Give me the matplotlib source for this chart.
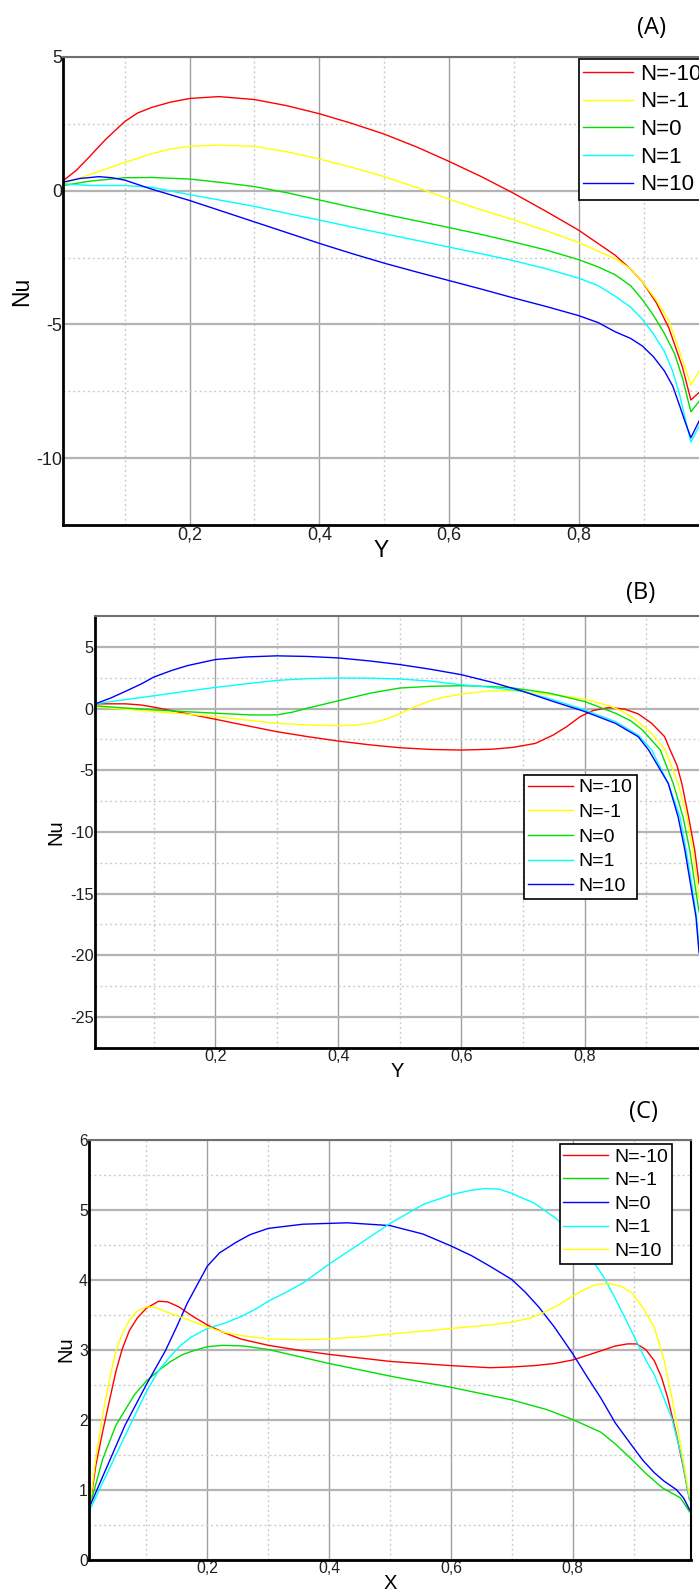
import matplotlib
matplotlib.use('Agg')
import matplotlib.pyplot as plt
from matplotlib.ticker import FixedLocator, FixedFormatter

plt.rcParams['font.family'] = ['Liberation Sans', 'DejaVu Sans']

labels = ['N=-10', 'N=-1', 'N=0', 'N=1', 'N=10']
x_ticks = [0.2, 0.4, 0.6, 0.8]
x_tick_labels = ['0,2', '0,4', '0,6', '0,8']
x_minor = [0.1, 0.3, 0.5, 0.7, 0.9]

# ---- panel A : Nu along Y ----
a_red_x = [0.006, 0.025, 0.045, 0.07, 0.10, 0.12, 0.142, 0.17, 0.2, 0.245, 0.30, 0.35, 0.4, 0.45, 0.5, 0.55,
           0.6, 0.65, 0.698, 0.75, 0.8, 0.856, 0.88, 0.898, 0.92, 0.939, 0.96, 0.973, 0.986]
a_red_y = [0.39, 0.75, 1.25, 1.9, 2.58, 2.90, 3.11, 3.30, 3.44, 3.51, 3.40, 3.17, 2.87, 2.51, 2.11, 1.63,
           1.09, 0.52, -0.08, -0.78, -1.48, -2.41, -2.93, -3.40, -4.2, -5.13, -6.6, -7.82, -7.53]
a_yel_x = [0.006, 0.045, 0.10, 0.142, 0.17, 0.2, 0.245, 0.30, 0.35, 0.4, 0.45, 0.5, 0.55, 0.6, 0.65, 0.698,
           0.75, 0.8, 0.856, 0.88, 0.898, 0.92, 0.939, 0.96, 0.973, 0.986]
a_yel_y = [0.25, 0.59, 1.05, 1.38, 1.55, 1.65, 1.70, 1.65, 1.45, 1.18, 0.87, 0.52, 0.12, -0.32, -0.72, -1.08,
           -1.50, -1.94, -2.54, -2.92, -3.40, -4.1, -4.87, -6.33, -7.26, -6.73]
a_grn_x = [0.006, 0.045, 0.10, 0.142, 0.2, 0.25, 0.30, 0.35, 0.4, 0.45, 0.5, 0.55, 0.6, 0.65, 0.698, 0.75,
           0.8, 0.83, 0.856, 0.88, 0.898, 0.915, 0.932, 0.948, 0.96, 0.973, 0.986]
a_grn_y = [0.19, 0.35, 0.48, 0.49, 0.43, 0.30, 0.15, -0.08, -0.35, -0.62, -0.88, -1.13, -1.38, -1.64, -1.91, -2.22,
           -2.58, -2.85, -3.14, -3.55, -4.07, -4.65, -5.33, -6.1, -7.0, -8.26, -7.86]
a_cyn_x = [0.006, 0.045, 0.10, 0.142, 0.2, 0.25, 0.30, 0.35, 0.4, 0.45, 0.5, 0.55, 0.6, 0.65, 0.698, 0.75,
           0.8, 0.83, 0.856, 0.88, 0.898, 0.915, 0.932, 0.945, 0.956, 0.965, 0.973, 0.986]
a_cyn_y = [0.25, 0.19, 0.19, 0.12, -0.15, -0.37, -0.59, -0.85, -1.10, -1.36, -1.61, -1.86, -2.11, -2.36, -2.61, -2.92,
           -3.27, -3.55, -3.94, -4.35, -4.80, -5.35, -6.0, -6.75, -7.66, -8.6, -9.39, -8.79]
a_blu_x = [0.006, 0.03, 0.06, 0.08, 0.10, 0.142, 0.2, 0.25, 0.30, 0.35, 0.4, 0.45, 0.5, 0.55, 0.6, 0.65, 0.698,
           0.75, 0.8, 0.83, 0.856, 0.88, 0.898, 0.915, 0.932, 0.945, 0.956, 0.965, 0.973, 0.986]
a_blu_y = [0.32, 0.45, 0.52, 0.48, 0.39, 0.05, -0.37, -0.77, -1.17, -1.57, -1.97, -2.35, -2.71, -3.04, -3.36, -3.68, -4.0,
           -4.33, -4.67, -4.93, -5.27, -5.52, -5.80, -6.2, -6.73, -7.3, -8.06, -8.7, -9.23, -8.59]

# ---- panel B : Nu along Y ----
b_red_x = [0.005, 0.054, 0.08, 0.1, 0.15, 0.2, 0.25, 0.3, 0.35, 0.4, 0.45, 0.5, 0.55, 0.6, 0.65, 0.684, 0.72,
           0.749, 0.771, 0.793, 0.814, 0.84, 0.865, 0.887, 0.909, 0.93, 0.939, 0.95, 0.958, 0.969, 0.979, 0.986]
b_red_y = [0.38, 0.38, 0.28, 0.11, -0.38, -0.87, -1.38, -1.88, -2.28, -2.64, -2.94, -3.18, -3.32, -3.37, -3.30, -3.15, -2.83,
           -2.15, -1.47, -0.65, -0.16, 0.08, -0.05, -0.43, -1.2, -2.28, -3.36, -4.6, -6.08, -8.79, -11.5, -14.2]
b_yel_x = [0.005, 0.05, 0.1, 0.15, 0.2, 0.25, 0.3, 0.35, 0.4, 0.43, 0.452, 0.475, 0.5, 0.52, 0.546, 0.57, 0.6,
           0.648, 0.684, 0.72, 0.76, 0.8, 0.84, 0.86, 0.88, 0.909, 0.931, 0.952, 0.966, 0.976, 0.983, 0.986]
b_yel_y = [0.16, -0.05, -0.24, -0.45, -0.65, -0.93, -1.2, -1.33, -1.39, -1.33, -1.2, -0.9, -0.43, 0.05, 0.57, 0.90, 1.17,
           1.44, 1.44, 1.25, 1.05, 0.76, 0.22, -0.2, -0.79, -2.0, -3.36, -6.08, -8.79, -11.5, -14.2, -15.5]
b_grn_x = [0.005, 0.05, 0.1, 0.15, 0.2, 0.257, 0.3, 0.325, 0.35, 0.4, 0.452, 0.5, 0.55, 0.6, 0.65, 0.684, 0.742,
           0.8, 0.85, 0.875, 0.894, 0.923, 0.944, 0.96, 0.971, 0.979, 0.986]
b_grn_y = [0.22, 0.05, -0.11, -0.25, -0.38, -0.52, -0.52, -0.3, 0.03, 0.63, 1.25, 1.66, 1.80, 1.85, 1.78, 1.66, 1.25,
           0.57, -0.38, -1.0, -1.74, -3.36, -6.08, -8.79, -11.5, -14.2, -16.5]
b_cyn_x = [0.005, 0.05, 0.1, 0.15, 0.2, 0.25, 0.3, 0.35, 0.4, 0.45, 0.5, 0.55, 0.6, 0.65, 0.7, 0.749, 0.8,
           0.85, 0.887, 0.909, 0.936, 0.955, 0.965, 0.974, 0.982, 0.986]
b_cyn_y = [0.38, 0.70, 1.03, 1.38, 1.71, 2.0, 2.28, 2.42, 2.47, 2.46, 2.39, 2.22, 1.93, 1.70, 1.39, 0.71, -0.11,
           -1.06, -2.15, -3.36, -6.08, -8.79, -11.5, -14.2, -16.9, -19.6]
b_blu_x = [0.005, 0.03, 0.054, 0.08, 0.1, 0.13, 0.155, 0.2, 0.25, 0.3, 0.35, 0.4, 0.45, 0.5, 0.55, 0.6, 0.65,
           0.7, 0.749, 0.8, 0.85, 0.887, 0.904, 0.936, 0.952, 0.963, 0.972, 0.981, 0.986]
b_blu_y = [0.38, 0.85, 1.39, 2.0, 2.55, 3.1, 3.48, 3.97, 4.18, 4.27, 4.22, 4.10, 3.86, 3.56, 3.18, 2.74, 2.12,
           1.39, 0.57, -0.24, -1.2, -2.28, -3.36, -6.08, -8.79, -11.5, -14.2, -16.9, -19.8]

# ---- panel C : Nu along X ----
c_red_x = [0.007, 0.017, 0.028, 0.04, 0.05, 0.06, 0.072, 0.085, 0.1, 0.12, 0.135, 0.153, 0.175, 0.2, 0.225, 0.255,
           0.3, 0.35, 0.4, 0.45, 0.5, 0.55, 0.6, 0.664, 0.7, 0.737, 0.77, 0.8, 0.825, 0.846, 0.87, 0.89, 0.905,
           0.92, 0.934, 0.946, 0.956, 0.97, 0.982, 0.992]
c_red_y = [0.76, 1.35, 1.82, 2.3, 2.69, 3.0, 3.27, 3.45, 3.59, 3.69, 3.68, 3.61, 3.48, 3.35, 3.25, 3.15,
           3.06, 2.99, 2.93, 2.88, 2.83, 2.80, 2.77, 2.74, 2.75, 2.77, 2.80, 2.85, 2.92, 2.98, 3.05, 3.08, 3.08,
           3.0, 2.84, 2.6, 2.31, 1.8, 1.3, 0.85]
c_grn_x = [0.007, 0.028, 0.05, 0.08, 0.1, 0.123, 0.14, 0.16, 0.18, 0.2, 0.226, 0.26, 0.3, 0.35, 0.4, 0.45, 0.5,
           0.55, 0.6, 0.65, 0.7, 0.758, 0.8, 0.846, 0.87, 0.897, 0.92, 0.948, 0.977, 0.992]
c_grn_y = [0.76, 1.43, 1.92, 2.35, 2.55, 2.72, 2.83, 2.93, 2.99, 3.04, 3.06, 3.05, 3.0, 2.90, 2.80, 2.71, 2.62,
           2.54, 2.46, 2.37, 2.28, 2.14, 2.0, 1.82, 1.65, 1.43, 1.23, 1.02, 0.88, 0.68]
c_blu_x = [0.007, 0.036, 0.065, 0.1, 0.131, 0.15, 0.167, 0.185, 0.2, 0.22, 0.247, 0.27, 0.3, 0.357, 0.43, 0.5,
           0.554, 0.6, 0.634, 0.664, 0.7, 0.722, 0.744, 0.77, 0.8, 0.823, 0.846, 0.87, 0.897, 0.915, 0.934, 0.95,
           0.97, 0.982, 0.992]
c_blu_y = [0.76, 1.34, 1.92, 2.50, 2.98, 3.33, 3.66, 3.95, 4.19, 4.38, 4.53, 4.64, 4.73, 4.79, 4.81, 4.77,
           4.65, 4.48, 4.34, 4.19, 4.0, 3.82, 3.61, 3.32, 2.94, 2.62, 2.31, 1.95, 1.63, 1.42, 1.24, 1.12,
           1.0, 0.88, 0.71]
c_cyn_x = [0.007, 0.036, 0.065, 0.1, 0.12, 0.138, 0.155, 0.174, 0.2, 0.23, 0.255, 0.28, 0.3, 0.33, 0.357, 0.4,
           0.445, 0.5, 0.554, 0.6, 0.63, 0.656, 0.68, 0.7, 0.737, 0.773, 0.8, 0.815, 0.831, 0.85, 0.868, 0.886,
           0.904, 0.92, 0.934, 0.95, 0.963, 0.978, 0.992]
c_cyn_y = [0.71, 1.24, 1.77, 2.40, 2.70, 2.89, 3.05, 3.18, 3.30, 3.38, 3.47, 3.58, 3.69, 3.82, 3.95, 4.22,
           4.48, 4.80, 5.07, 5.21, 5.27, 5.30, 5.29, 5.23, 5.09, 4.87, 4.63, 4.47, 4.29, 4.05, 3.76, 3.45,
           3.13, 2.85, 2.64, 2.30, 2.01, 1.5, 0.85]
c_yel_x = [0.007, 0.017, 0.028, 0.04, 0.05, 0.06, 0.072, 0.085, 0.1, 0.115, 0.138, 0.17, 0.2, 0.225, 0.255, 0.3,
           0.357, 0.4, 0.45, 0.5, 0.55, 0.6, 0.664, 0.7, 0.73, 0.751, 0.775, 0.8, 0.82, 0.839, 0.861, 0.88, 0.897,
           0.915, 0.934, 0.95, 0.963, 0.978, 0.992]
c_yel_y = [0.76, 1.45, 2.06, 2.6, 2.98, 3.22, 3.42, 3.55, 3.61, 3.60, 3.52, 3.42, 3.32, 3.25, 3.20, 3.15,
           3.14, 3.15, 3.18, 3.22, 3.26, 3.30, 3.35, 3.39, 3.45, 3.52, 3.63, 3.76, 3.86, 3.93, 3.94, 3.90, 3.81,
           3.6, 3.32, 2.85, 2.31, 1.6, 0.90]

W, H = 699, 1591
fig = plt.figure(figsize=(W / 100, H / 100), dpi=100)


def px_axes(left, top, right, bottom):
    return fig.add_axes([left / W, 1 - bottom / H, (right - left) / W, (bottom - top) / H])


def style_axes(ax, xlim, ylim, yticks, yminor, xlabel, right_spine, tick_fs, label_fs):
    ax.set_xlim(*xlim)
    ax.set_ylim(*ylim)
    ax.xaxis.set_major_locator(FixedLocator(x_ticks))
    ax.xaxis.set_major_formatter(FixedFormatter(x_tick_labels))
    ax.xaxis.set_minor_locator(FixedLocator(x_minor))
    ax.yaxis.set_major_locator(FixedLocator(yticks))
    ax.yaxis.set_major_formatter(FixedFormatter([str(v) for v in yticks]))
    ax.yaxis.set_minor_locator(FixedLocator(yminor))
    ax.tick_params(which='both', length=0, labelsize=tick_fs, colors='#202020')
    ax.tick_params(axis='x', pad=1)
    ax.tick_params(axis='y', pad=1)
    ax.grid(which='major', axis='x', color='#a0a0a0', lw=1.0)
    ax.grid(which='major', axis='y', color='#b4b4b4', lw=1.6)
    ax.grid(which='minor', color='#cccccc', lw=1.0, ls=(0, (1.5, 2)))
    ax.set_axisbelow(True)
    ax.spines['left'].set_linewidth(2)
    ax.spines['bottom'].set_linewidth(2)
    ax.spines['top'].set_color('#707070')
    ax.spines['top'].set_linewidth(1.5)
    if right_spine:
        ax.spines['right'].set_linewidth(1.5)
    else:
        ax.spines['right'].set_visible(False)
    ax.set_xlabel(xlabel, fontsize=label_fs, va='center', ha='center')
    ax.set_ylabel('Nu', fontsize=label_fs, va='center', ha='center')


def add_legend(ax, handles, anchor, fs, spacing, hlen):
    leg = ax.legend(handles, labels, loc='upper left',
                    bbox_to_anchor=(anchor[0] / W, 1 - anchor[1] / H),
                    bbox_transform=fig.transFigure, borderaxespad=0,
                    fontsize=fs, labelspacing=spacing, handlelength=hlen,
                    handletextpad=0.3, borderpad=0.2, fancybox=False,
                    framealpha=1, edgecolor='black')
    leg.get_frame().set_linewidth(1.2)
    leg.set_zorder(10)


# panel A
axA = px_axes(63.5, 56.7, 699, 525.3)
style_axes(axA, (0.0055, 0.9855), (-12.5, 5), [5, 0, -5, -10], [2.5, -2.5, -7.5], 'Y', False, 13, 16.5)
hA = []
hA += axA.plot(a_red_x, a_red_y, color='#ff0000', lw=1)
hA += axA.plot(a_yel_x, a_yel_y, color='#ffff00', lw=1)
hA += axA.plot(a_grn_x, a_grn_y, color='#00e000', lw=1)
hA += axA.plot(a_cyn_x, a_cyn_y, color='#00ffff', lw=1)
hA += axA.plot(a_blu_x, a_blu_y, color='#0000ff', lw=1)
axA.xaxis.set_label_coords(0.5, -0.053)
axA.yaxis.set_label_coords(-0.066, 0.5)
add_legend(axA, hA, (579, 59.3), 16, 0.3, 2.25)
fig.text(651 / W, 1 - 27.7 / H, '(A)', fontsize=17, family='Open Sans', ha='center', va='center')

# panel B
axB = px_axes(95, 616, 699, 1047.7)
style_axes(axB, (0.0045, 0.9859), (-27.5, 7.5), [5, 0, -5, -10, -15, -20, -25],
           [2.5, -2.5, -7.5, -12.5, -17.5, -22.5], 'Y', False, 11.7, 14.5)
hB = []
hB += axB.plot(b_red_x, b_red_y, color='#ff0000', lw=1)
hB += axB.plot(b_yel_x, b_yel_y, color='#ffff00', lw=1)
hB += axB.plot(b_grn_x, b_grn_y, color='#00e000', lw=1)
hB += axB.plot(b_cyn_x, b_cyn_y, color='#00ffff', lw=1)
hB += axB.plot(b_blu_x, b_blu_y, color='#0000ff', lw=1)
axB.xaxis.set_label_coords(0.5, -0.0556)
axB.yaxis.set_label_coords(-0.064, 0.5)
add_legend(axB, hB, (524.3, 775), 14, 0.36, 2.3)
fig.text(640.6 / W, 1 - 593.3 / H, '(B)', fontsize=17, family='Open Sans', ha='center', va='center')

# panel C
axC = px_axes(89.3, 1139.5, 690.7, 1559.5)
style_axes(axC, (0.0062, 0.9938), (0, 6), [0, 1, 2, 3, 4, 5, 6],
           [0.5, 1.5, 2.5, 3.5, 4.5, 5.5], 'X', True, 11.3, 14.5)
hC = []
hC += axC.plot(c_red_x, c_red_y, color='#ff0000', lw=1)
hC += axC.plot(c_grn_x, c_grn_y, color='#00e000', lw=1)
hC += axC.plot(c_blu_x, c_blu_y, color='#0000ff', lw=1)
hC += axC.plot(c_cyn_x, c_cyn_y, color='#00ffff', lw=1)
hC += axC.plot(c_yel_x, c_yel_y, color='#ffff00', lw=1)
axC.xaxis.set_label_coords(0.5, -0.056)
axC.yaxis.set_label_coords(-0.0386, 0.5)
add_legend(axC, hC, (559.5, 1144), 14, 0.31, 2.3)
fig.text(643 / W, 1 - 1111.7 / H, '(C)', fontsize=17, family='Open Sans', ha='center', va='center')

fig.savefig('out.png', dpi=100)
